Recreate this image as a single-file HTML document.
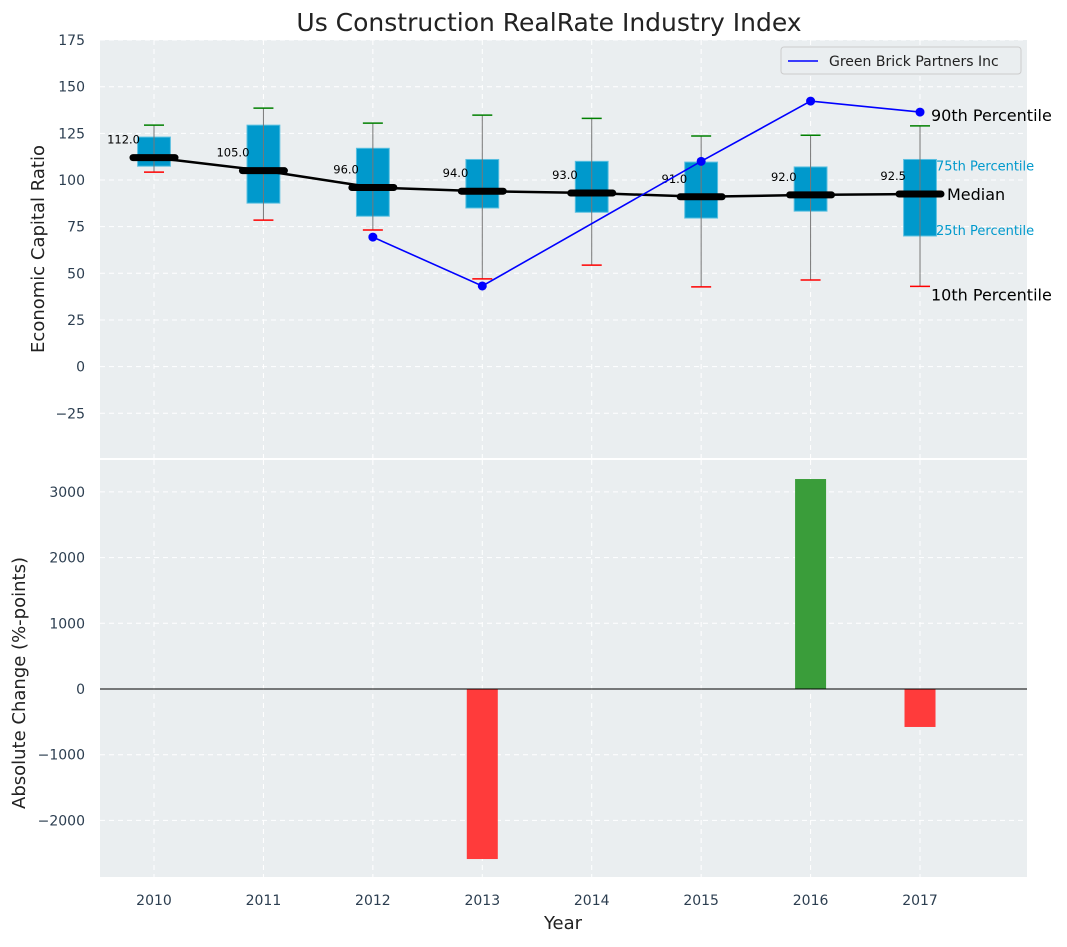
<!DOCTYPE html>
<html><head><meta charset="utf-8"><style>
body{margin:0;background:#fff;font-family:"Liberation Sans","DejaVu Sans",sans-serif}
svg text{font-family:"DejaVu Sans","Liberation Sans",sans-serif}
</style></head><body>
<svg id="c" width="1067" height="942" viewBox="0 0 1067 942" xmlns="http://www.w3.org/2000/svg">
<rect width="1067" height="942" fill="#fff"/>
<text x="549" y="31" font-size="25" text-anchor="middle" fill="#222">Us Construction RealRate Industry Index</text>
<rect x="100" y="40" width="927" height="418" fill="#eaeef0"/>
<rect x="100" y="460" width="927" height="417" fill="#eaeef0"/>
<g id="g"></g>
</svg>
<script>
const years=[2010,2011,2012,2013,2014,2015,2016,2017];
const p10=[104.2,78.5,73.2,47,54.4,42.7,46.4,43];
const q1=[107.4,87.6,80.6,85,82.7,79.6,83.3,70];
const medians=[112,105,96,94,93,91,92,92.5];
const q3=[123,129.4,117,111,110,109.6,107,111];
const p90=[129.4,138.5,130.5,134.8,133,123.6,124,129];
const gbYears=[2012,2013,2015,2016,2017];
const gbValues=[69.4,43.2,110,142.3,136.4];
const changes=[0,0,0,-2588,0,0,3196,-578];
const yTicksTop=[-25,0,25,50,75,100,125,150,175];
const yTicksBot=[-2000,-1000,0,1000,2000,3000];

const NS="http://www.w3.org/2000/svg",G=document.getElementById('g');
const X=v=>154+(v-2010)*109.43;
const YT=v=>366.6-v*1.866;
const YB=v=>689-v*0.0657;
function el(t,a,txt){const e=document.createElementNS(NS,t);for(const k in a)e.setAttribute(k,a[k]);if(txt!==undefined)e.textContent=txt;G.appendChild(e);return e;}

// grids
years.forEach(y=>{
 let l=el('line',{x1:X(y),x2:X(y),y1:40,y2:458,stroke:'#fff','stroke-dasharray':'5,4','stroke-width':1});
 
 l=el('line',{x1:X(y),x2:X(y),y1:460,y2:877,stroke:'#fff','stroke-dasharray':'5,4','stroke-width':1});
 
 const t=el('text',{x:X(y),y:905,'font-size':14,'text-anchor':'middle',fill:'#2c3e50'},y);
 
});
yTicksTop.forEach(v=>{
 const l=el('line',{x1:100,x2:1027,y1:YT(v),y2:YT(v),stroke:'#fff','stroke-dasharray':'5,4'});
 
 const t=el('text',{x:85,y:YT(v)+5,'font-size':14,'text-anchor':'end',fill:'#2c3e50'},String(v).replace('-','\u2212'));
 
});
yTicksBot.forEach(v=>{
 const l=el('line',{x1:100,x2:1027,y1:YB(v),y2:YB(v),stroke:'#fff','stroke-dasharray':'5,4'});
 
 const t=el('text',{x:85,y:YB(v)+5,'font-size':14,'text-anchor':'end',fill:'#2c3e50'},String(v).replace('-','\u2212'));
 
});
// boxes
const bw=0.3*109.43;
years.forEach((y,i)=>{
 const x=X(y);
 let r=el('rect',{x:x-bw/2,y:YT(q3[i]),width:bw,height:YT(q1[i])-YT(q3[i]),fill:'#0099cc',stroke:'#5bc0e0','stroke-width':1});
 
 let w=el('line',{x1:x,x2:x,y1:YT(p90[i]),y2:YT(p10[i]),stroke:'#777','stroke-width':1});
 
 let a=el('line',{x1:x-10,x2:x+10,y1:YT(p90[i]),y2:YT(p90[i]),stroke:'green','stroke-width':1.5});
 
 let b=el('line',{x1:x-10,x2:x+10,y1:YT(p10[i]),y2:YT(p10[i]),stroke:'red','stroke-width':1.5});
 
});
// median line
let mp=el('polyline',{points:years.map((y,i)=>X(y)+','+YT(medians[i])).join(' '),fill:'none',stroke:'#000','stroke-width':2.5});

years.forEach((y,i)=>{
 const x=X(y);
 let m=el('line',{x1:x-21,x2:x+21,y1:YT(medians[i]),y2:YT(medians[i]),stroke:'#000','stroke-width':7,'stroke-linecap':'round'});
 
 let t=el('text',{x:x-14,y:YT(medians[i])-14,'font-size':11.5,'text-anchor':'end',fill:'#000'},medians[i].toFixed(1));
 
});
// green brick
let gp=el('polyline',{points:gbYears.map((y,i)=>X(y)+','+YT(gbValues[i])).join(' '),fill:'none',stroke:'#0000ff','stroke-width':1.6});

gbYears.forEach((y,i)=>{
 const c=el('circle',{cx:X(y),cy:YT(gbValues[i]),r:4.5,fill:'#0000ff'});
 
});
// annotations
const lx=X(2017);
[['90th Percentile',lx+11,YT(p90[7])-5,16,'#000'],['75th Percentile',lx+16,YT(q3[7])+11,13,'#0099cc'],['Median',lx+27,YT(medians[7])+6,16,'#000'],['25th Percentile',lx+16,YT(q1[7])-1,13,'#0099cc'],['10th Percentile',lx+11,YT(p10[7])+14,16,'#000']].forEach(a=>{
 const t=el('text',{x:a[1],y:a[2],'font-size':a[3],fill:a[4]},a[0]);
 
});
// bars
years.forEach((y,i)=>{
 if(!changes[i])return;
 const v=changes[i],y0=YB(Math.max(v,0)),h=Math.abs(YB(v)-YB(0));
 const r=el('rect',{x:X(y)-15.5,y:y0,width:31,height:h,fill:v>0?'#3a9d3a':'#ff3b3b'});
 
});
let z=el('line',{x1:100,x2:1027,y1:YB(0),y2:YB(0),stroke:'#000','stroke-width':1});

// legend
let lg=el('rect',{x:781,y:47,width:240,height:27,rx:3,fill:'#eaeef0',stroke:'#ccc'});

let ll=el('line',{x1:788,x2:818,y1:61,y2:61,stroke:'#0000ff','stroke-width':1.6});

let lt=el('text',{x:829,y:66,'font-size':14,fill:'#222'},'Green Brick Partners Inc');

// axis titles
let a1=el('text',{x:0,y:0,'font-size':18,'text-anchor':'middle',fill:'#222',transform:'translate(44,249) rotate(-90)'},'Economic Capital Ratio');

let a2=el('text',{x:0,y:0,'font-size':18,'text-anchor':'middle',fill:'#222',transform:'translate(25,683) rotate(-90)'},'Absolute Change (%-points)');

let a3=el('text',{x:563,y:929,'font-size':18,'text-anchor':'middle',fill:'#222'},'Year');

</script>
</body></html>
